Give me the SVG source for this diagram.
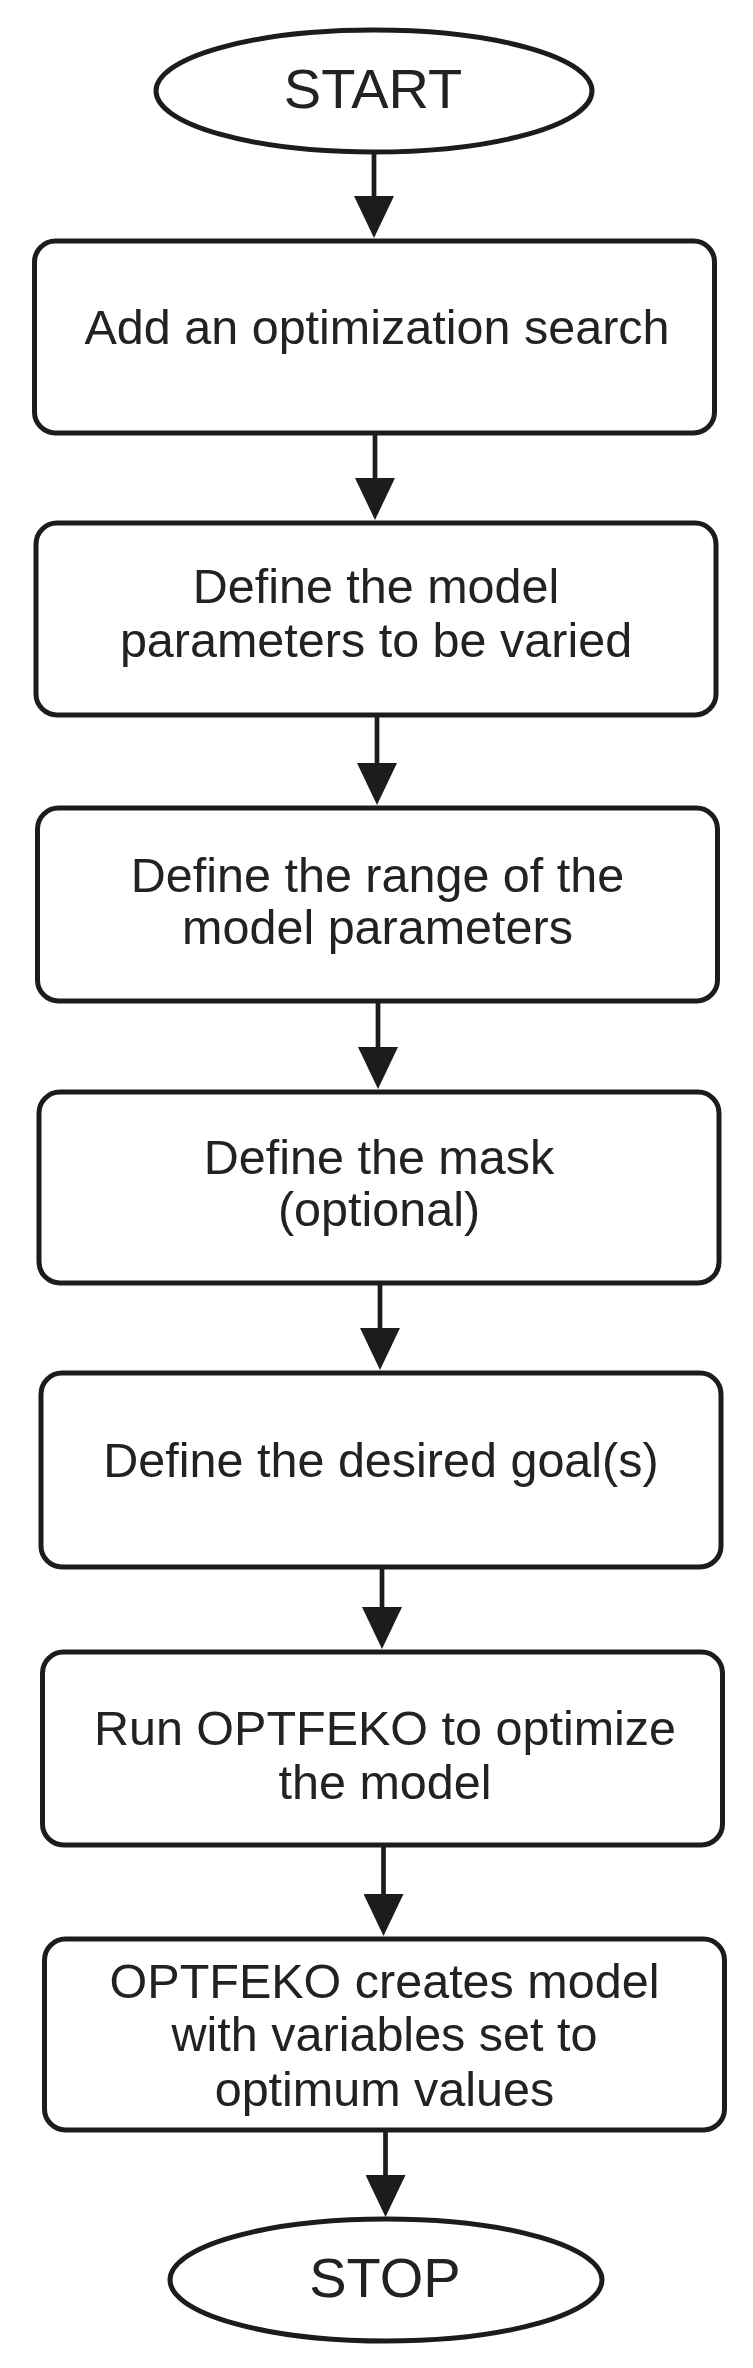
<svg xmlns="http://www.w3.org/2000/svg" width="753" height="2368" viewBox="0 0 753 2368">
<defs>
<style>
.shape{fill:#ffffff;stroke:#1c1c1c;stroke-width:5}
.lbl{font-family:"Liberation Sans",Arial,sans-serif;font-size:48.5px;fill:#222222;text-anchor:middle}
.big{font-size:56px}
.conn{stroke:#1c1c1c;stroke-width:4.7;fill:none;marker-end:url(#arr)}
</style>
<marker id="arr" markerUnits="userSpaceOnUse" markerWidth="42" markerHeight="40" refX="32" refY="20" orient="auto">
<path d="M0,0 L42,20 L0,40 z" fill="#1c1c1c"/>
</marker>
</defs>
<rect width="753" height="2368" fill="#ffffff"/>
<g id="connectors">
<line class="conn" x1="374" y1="153" x2="374" y2="228"/>
<line class="conn" x1="375" y1="434" x2="375" y2="510"/>
<line class="conn" x1="377" y1="716" x2="377" y2="795"/>
<line class="conn" x1="378" y1="1002" x2="378" y2="1079"/>
<line class="conn" x1="380" y1="1284" x2="380" y2="1360"/>
<line class="conn" x1="382" y1="1568" x2="382" y2="1639"/>
<line class="conn" x1="383.5" y1="1846" x2="383.5" y2="1926"/>
<line class="conn" x1="385.5" y1="2131" x2="385.5" y2="2207"/>
</g>
<g id="start">
<ellipse class="shape" cx="374" cy="91" rx="218" ry="61"/>
<text class="lbl big" x="373" y="108">START</text>
</g>
<g id="step1">
<rect class="shape" x="34.5" y="241" width="680" height="192" rx="21"/>
<text class="lbl" x="377" y="344">Add an optimization search</text>
</g>
<g id="step2">
<rect class="shape" x="36" y="523" width="680" height="192" rx="21"/>
<text class="lbl" x="376" y="603">Define the model</text>
<text class="lbl" x="376" y="657">parameters to be varied</text>
</g>
<g id="step3">
<rect class="shape" x="37.5" y="808" width="680" height="193" rx="21"/>
<text class="lbl" x="377.5" y="892">Define the range of the</text>
<text class="lbl" x="377.5" y="944">model parameters</text>
</g>
<g id="step4">
<rect class="shape" x="39" y="1092" width="680" height="191" rx="21"/>
<text class="lbl" x="379" y="1174">Define the mask</text>
<text class="lbl" x="379" y="1226">(optional)</text>
</g>
<g id="step5">
<rect class="shape" x="41" y="1373" width="680" height="194" rx="21"/>
<text class="lbl" x="381" y="1477">Define the desired goal(s)</text>
</g>
<g id="step6">
<rect class="shape" x="42.5" y="1652" width="680" height="193" rx="21"/>
<text class="lbl" x="385" y="1745">Run OPTFEKO to optimize</text>
<text class="lbl" x="385" y="1799">the model</text>
</g>
<g id="step7">
<rect class="shape" x="44.5" y="1939" width="680" height="191" rx="21"/>
<text class="lbl" x="384.5" y="1998">OPTFEKO creates model</text>
<text class="lbl" x="384.5" y="2051">with variables set to</text>
<text class="lbl" x="384.5" y="2106">optimum values</text>
</g>
<g id="stop">
<ellipse class="shape" cx="386" cy="2280" rx="216" ry="61"/>
<text class="lbl big" x="385" y="2297">STOP</text>
</g>
</svg>
